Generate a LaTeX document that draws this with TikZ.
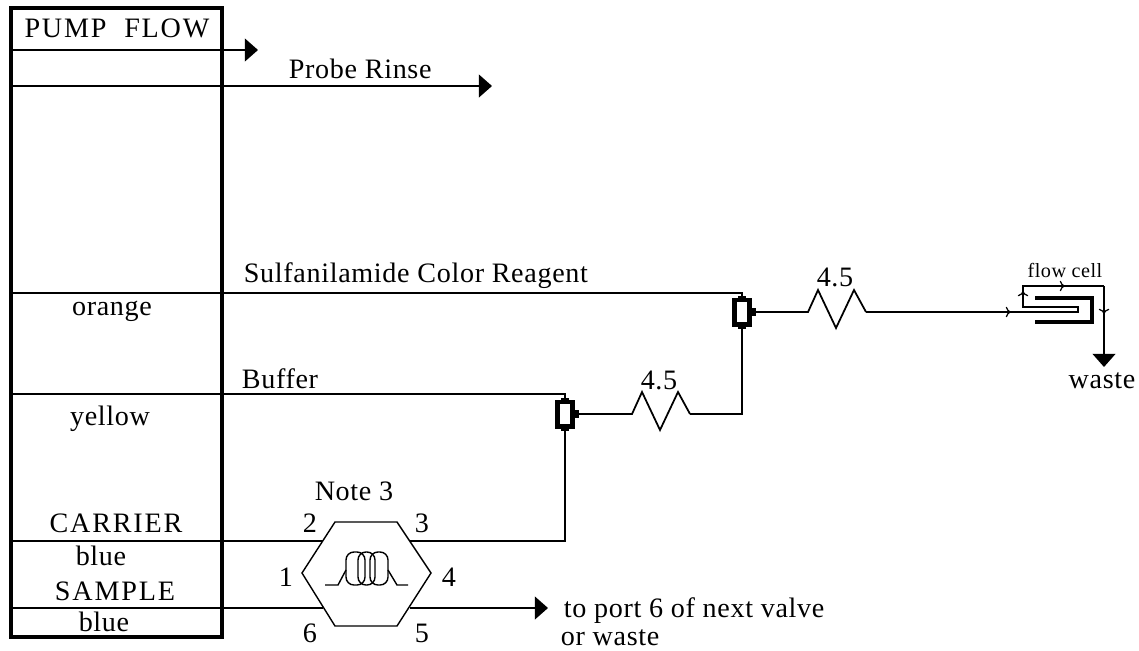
\documentclass[tikz,border=0pt]{standalone}
\usepackage{fontspec}
\setmainfont[LetterSpace=2.4]{Liberation Serif}
\usetikzlibrary{arrows.meta}
\usetikzlibrary{calc}
\begin{document}
\begin{tikzpicture}[x=0.02cm, y=-0.02cm, line width=1pt]
            \tikzstyle{label} = [inner sep=0pt, anchor=base, font=\fontsize{16}{18}\selectfont]
            \tikzstyle{capslabel} = [label, font=\fontsize{16}{18}\selectfont\addfontfeature{LetterSpace=6.5}]
            \tikzstyle{flow} = [-{Triangle[length=7.5pt, width=13pt]}]
            \tikzstyle{tick} = [-{To[length=3pt, width=6pt]}, line width=0.7pt]
            \tikzstyle{tee} = [draw, line width=2.5pt, fill=white, minimum width=8.5pt, minimum height=14pt, inner sep=0pt]
            \useasboundingbox (0, 0) rectangle (1139, 650);
            \coordinate (boxNW) at (11, 8);
            \coordinate (boxSE) at (222, 637);
            \draw[line width=2.2pt] (boxNW) rectangle (boxSE);
            \foreach \name/\y in {a/50, b/86, c/293, d/394, e/541, f/608} {
                \coordinate (left\name) at (11, \y);
                \coordinate (right\name) at (222, \y);
            }
            \draw (lefta) -- (righta);
            \draw (leftb) -- (rightb);
            \draw (leftc) -- (rightc);
            \draw (leftd) -- (rightd);
            \draw (lefte) -- (righte);
            \draw (leftf) -- (rightf);
            \coordinate (endA) at (258, 50);
            \coordinate (endB) at (492, 86);
            \draw[flow] (righta) -- (endA);
            \draw[flow] (rightb) -- (endB);

            \node[tee] (teeUpper) at (742, 312) {};
            \node[tee] (teeLower) at (565, 414) {};
            \foreach \t in {teeUpper, teeLower} {
                \fill (\t.north) ++(-4, 1) rectangle ++(8, -3);
                \fill (\t.south) ++(-4, -1) rectangle ++(8, 3);
                \fill (\t.east) ++(-1, -4) rectangle ++(5, 8);
            }
            \draw (rightc) -| (teeUpper.north);
            \draw (rightd) -| (teeLower.north);

            \coordinate (coilUpperIn) at (808, 312);
            \coordinate (coilUpperOut) at (866, 312);
            \coordinate (coilLowerIn) at (632, 414);
            \coordinate (coilLowerOut) at (690, 414);
            \draw (teeUpper.east) -- (coilUpperIn) -- ++(10, -22) -- ++(18, 38) -- ++(18, -38) -- (coilUpperOut);
            \draw (teeLower.east) -- (coilLowerIn) -- ++(10, -22) -- ++(18, 38) -- ++(18, -38) -- (coilLowerOut);
            \draw (coilLowerOut) -| (teeUpper.south);

            \coordinate (valveW) at (302, 573);
            \coordinate (valveNW) at (335, 522);
            \coordinate (valveNE) at (397, 522);
            \coordinate (valveE) at (431, 573);
            \coordinate (valveSE) at (397, 626);
            \coordinate (valveSW) at (335, 626);
            \draw[line width=0.8pt] (valveW) -- (valveNW) -- (valveNE) -- (valveE) -- (valveSE) -- (valveSW) -- cycle;
            \coordinate (portTwo) at (323, 541);
            \coordinate (portThree) at (410, 541);
            \coordinate (portSix) at (323, 608);
            \coordinate (portFive) at (410, 608);
            \coordinate (endF) at (548, 608);
            \draw (righte) -- (portTwo);
            \draw (rightf) -- (portSix);
            \draw (portThree) -| (teeLower.south);
            \draw[flow] (portFive) -- (endF);

            \draw[line width=0.8pt] (325, 585) -- (338, 585) -- (346, 570);
            \draw[line width=0.8pt] (388, 570) -- (397, 585) -- (408, 585);
            \draw[line width=0.8pt, rounded corners=4.5pt] (346, 552) rectangle (365, 585);
            \draw[line width=0.8pt, rounded corners=4.5pt] (358, 552) rectangle (375, 585);
            \draw[line width=0.8pt, rounded corners=4.5pt] (370, 552) rectangle (388, 585);

            \coordinate (cellIn) at (1078, 312);
            \coordinate (cellCorner) at (1023, 307);
            \coordinate (cellTop) at (1023, 286);
            \coordinate (cellRight) at (1104, 286);
            \coordinate (endWaste) at (1104, 367);
            \draw (coilUpperOut) -- (cellIn) -- (1078, 307) -- (cellCorner) -- (cellTop) -- (cellRight);
            \draw[flow] (cellRight) -- (endWaste);
            \draw[line width=2.2pt] (1035, 298) -- (1092, 298) -- (1092, 322) -- (1035, 322);
            \draw[tick] (1006, 312) -- (1011, 312);
            \draw[tick] (1023, 297) -- (1023, 291);
            \draw[tick] (1059, 286) -- (1065, 286);
            \draw[tick] (1104, 308) -- (1104, 314);

            \node[capslabel] (pumpFlow) at (117, 37) {PUMP\ \ FLOW};
            \node[label, anchor=base west] (probeRinse) at (288, 78) {Probe Rinse};
            \node[label, anchor=base west] (reagent) at (243, 282) {Sulfanilamide Color Reagent};
            \node[label] (orange) at (112, 315) {orange};
            \node[label, anchor=base west] (buffer) at (241, 388) {Buffer};
            \node[label] (yellow) at (110, 425) {yellow};
            \node[capslabel] (carrier) at (116, 532) {CARRIER};
            \node[label] (blueA) at (101, 565) {blue};
            \node[capslabel] (sample) at (115, 600) {SAMPLE};
            \node[label] (blueB) at (104, 631) {blue};
            \node[label] (note) at (354, 500) {Note 3};
            \node[label] (numTwo) at (310, 532) {2};
            \node[label] (numThree) at (422, 532) {3};
            \node[label] (numOne) at (286, 586) {1};
            \node[label] (numFour) at (449, 586) {4};
            \node[label] (numSix) at (310, 642) {6};
            \node[label] (numFive) at (422, 642) {5};
            \node[label, anchor=base west] (toPort) at (563, 617) {to port 6 of next valve};
            \node[label, anchor=base west] (orWaste) at (560, 645) {or waste};
            \node[label] (sizeLower) at (659, 389) {4.5};
            \node[label] (sizeUpper) at (835, 286) {4.5};
            \node[label, font=\fontsize{11.5}{13}\selectfont] (flowCell) at (1065, 277) {flow cell};
            \node[label] (waste) at (1102, 388) {waste};
        \end{tikzpicture}
\end{document}
